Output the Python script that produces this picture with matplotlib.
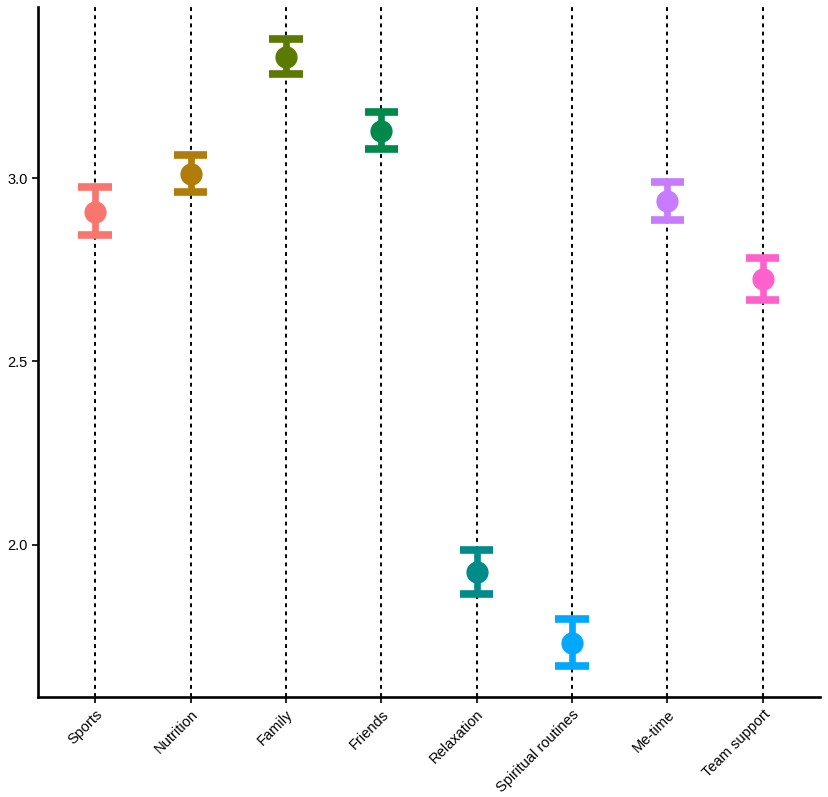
import numpy as np
import matplotlib.pyplot as plt

plt.rcParams['font.family'] = ['Liberation Sans', 'DejaVu Sans']

categories = ['Sports', 'Nutrition', 'Family', 'Friends', 'Relaxation',
              'Spiritual routines', 'Me-time', 'Team support']
means = [2.907, 3.011, 3.330, 3.128, 1.926, 1.733, 2.937, 2.725]
lower = [2.845, 2.962, 3.283, 3.079, 1.866, 1.670, 2.886, 2.668]
upper = [2.975, 3.063, 3.381, 3.180, 1.986, 1.796, 2.989, 2.782]
colors = ['#F8766D', '#B07D0A', '#5B7A03', '#00894A', '#008B8B',
          '#00A9FF', '#C77CFF', '#FF61CC']

fig = plt.figure(figsize=(8.29, 7.97), dpi=100)
ax = fig.add_axes([0.0458, 0.1255, 0.9432, 0.8655])

x = np.arange(len(categories))
for xi in x:
    ax.axvline(xi, color='black', linestyle=(0, (2, 2.2)), linewidth=1.4, zorder=1)

for i in range(len(categories)):
    ax.plot([x[i], x[i]], [lower[i], upper[i]], color=colors[i], linewidth=4.8,
            solid_capstyle='butt', zorder=2)
    for yv in (lower[i], upper[i]):
        ax.plot([x[i] - 0.175, x[i] + 0.175], [yv, yv], color=colors[i],
                linewidth=5.5, solid_capstyle='butt', zorder=2)
    ax.plot(x[i], means[i], 'o', color=colors[i], markersize=15, zorder=3)

ax.set_xlim(-0.6, len(categories) - 0.4)
rng = max(upper) - min(lower)
ax.set_ylim(min(lower) - 0.05 * rng, max(upper) + 0.05 * rng)
ax.set_yticks([2.0, 2.5, 3.0])
ax.set_yticklabels(['2.0', '2.5', '3.0'])
ax.set_xticks(x)
ax.set_xticklabels(categories, rotation=45, ha='right', rotation_mode='anchor')

for s in ['top', 'right']:
    ax.spines[s].set_visible(False)
for s in ['left', 'bottom']:
    ax.spines[s].set_linewidth(1.9)
ax.tick_params(axis='both', length=4, width=1.2, labelsize=10.5, colors='black')

fig.savefig('out.png', dpi=100)
